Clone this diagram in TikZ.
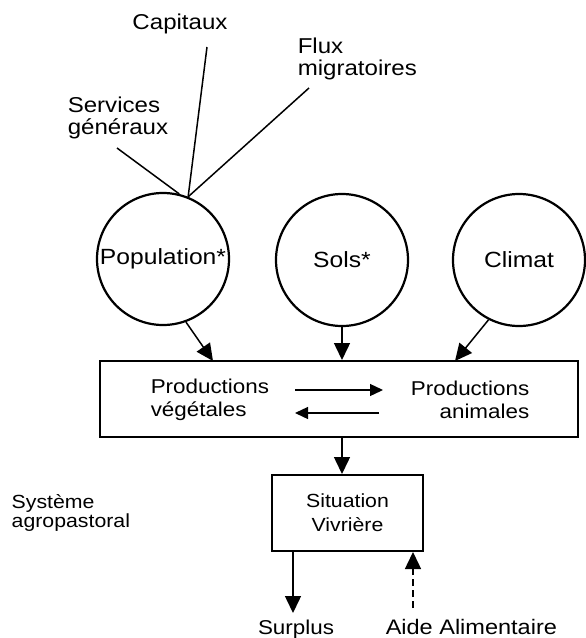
\documentclass[tikz,border=0pt]{standalone}
\usepackage{fontspec}
\setmainfont{Liberation Sans}[FakeStretch=1.12]
\usetikzlibrary{arrows.meta}
\begin{document}
\begin{tikzpicture}[x=1pt,y=-1pt,line width=1.5pt,
  txt/.style={inner sep=0pt, font=\fontsize{20}{23}\selectfont, align=left},
  toptxt/.style={txt, font=\fontsize{21.5}{22.5}\selectfont},
  circ/.style={circle, draw, line width=2.2pt, minimum size=#1, inner sep=0pt, font=\fontsize{22}{26}\selectfont},
  frame/.style={draw, line width=2pt, rectangle, inner sep=0pt},
  tip/.style={-{Triangle[length=17pt,width=16pt]}},
  smalltip/.style={line width=1.3pt, -{Triangle[length=13pt,width=12pt]}},
  dashtip/.style={tip, dash pattern=on 7pt off 4pt}]
\useasboundingbox (0,0) rectangle (586,638);

% upper labels
\node[toptxt] (cap) at (180,24) {Capitaux};
\node[toptxt, anchor=west] (flux) at (297,59) {Flux\\migratoires};
\node[toptxt, anchor=west] (serv) at (67,118) {Services\\généraux};

% circles
\node[circ=132pt] (pop) at (163,259) {Population*};
\node[circ=132pt] (sols) at (342,260) {Sols*};
\node[circ=132pt] (clim) at (519,260) {Climat};

% lines converging on Population
\coordinate (capA) at (207,47);
\coordinate (fluxA) at (309,88);
\coordinate (servA) at (117,148);
\coordinate (meet) at (pop.68);
\draw (capA) -- (meet);
\draw (fluxA) -- (meet);
\draw (servA) -- (pop.76);

% production box
\node[frame, minimum width=478pt, minimum height=76pt] (prod) at (339,399) {};
\node[txt, anchor=west] (veg) at (150,400) {Productions\\végétales};
\node[txt, anchor=east, align=right] (ani) at (530,400) {Productions\\animales};
\coordinate (r1) at (295,390);
\coordinate (r2) at (383,390);
\coordinate (l1) at (379,413);
\coordinate (l2) at (295,413);
\draw[smalltip] (r1) -- (r2);
\draw[smalltip] (l1) -- (l2);

% arrows into production box
\coordinate (popIn) at (213,361);
\coordinate (climIn) at (455,361);
\draw[tip] (pop.-70) -- (popIn);
\draw[tip] (sols.south) -- (sols.south |- prod.north);
\draw[tip] (clim.-117) -- (climIn);

% situation box
\node[frame, minimum width=151pt, minimum height=76pt, txt, font=\fontsize{19}{24}\selectfont, align=center] (sit) at (347.5,513) {Situation\\Vivrière};
\draw[tip] (prod.south -| sols.south) -- (sit.north -| sols.south);

% left label
\node[txt, anchor=west, font=\fontsize{19}{19.5}\selectfont] (sys) at (11,513) {Système\\agropastoral};

% bottom
\node[txt, font=\fontsize{20}{24}\selectfont, anchor=base] (surp) at (296,634) {Surplus};
\node[txt, font=\fontsize{21}{24}\selectfont, anchor=base west] (aide) at (385,634) {Aide Alimentaire};
\coordinate (surpT) at (293,613);
\coordinate (aideB) at (413,608);
\draw[tip] (sit.south -| surpT) -- (surpT);
\draw[dashtip] (aideB) -- (sit.south -| aideB);
\end{tikzpicture}
\end{document}
